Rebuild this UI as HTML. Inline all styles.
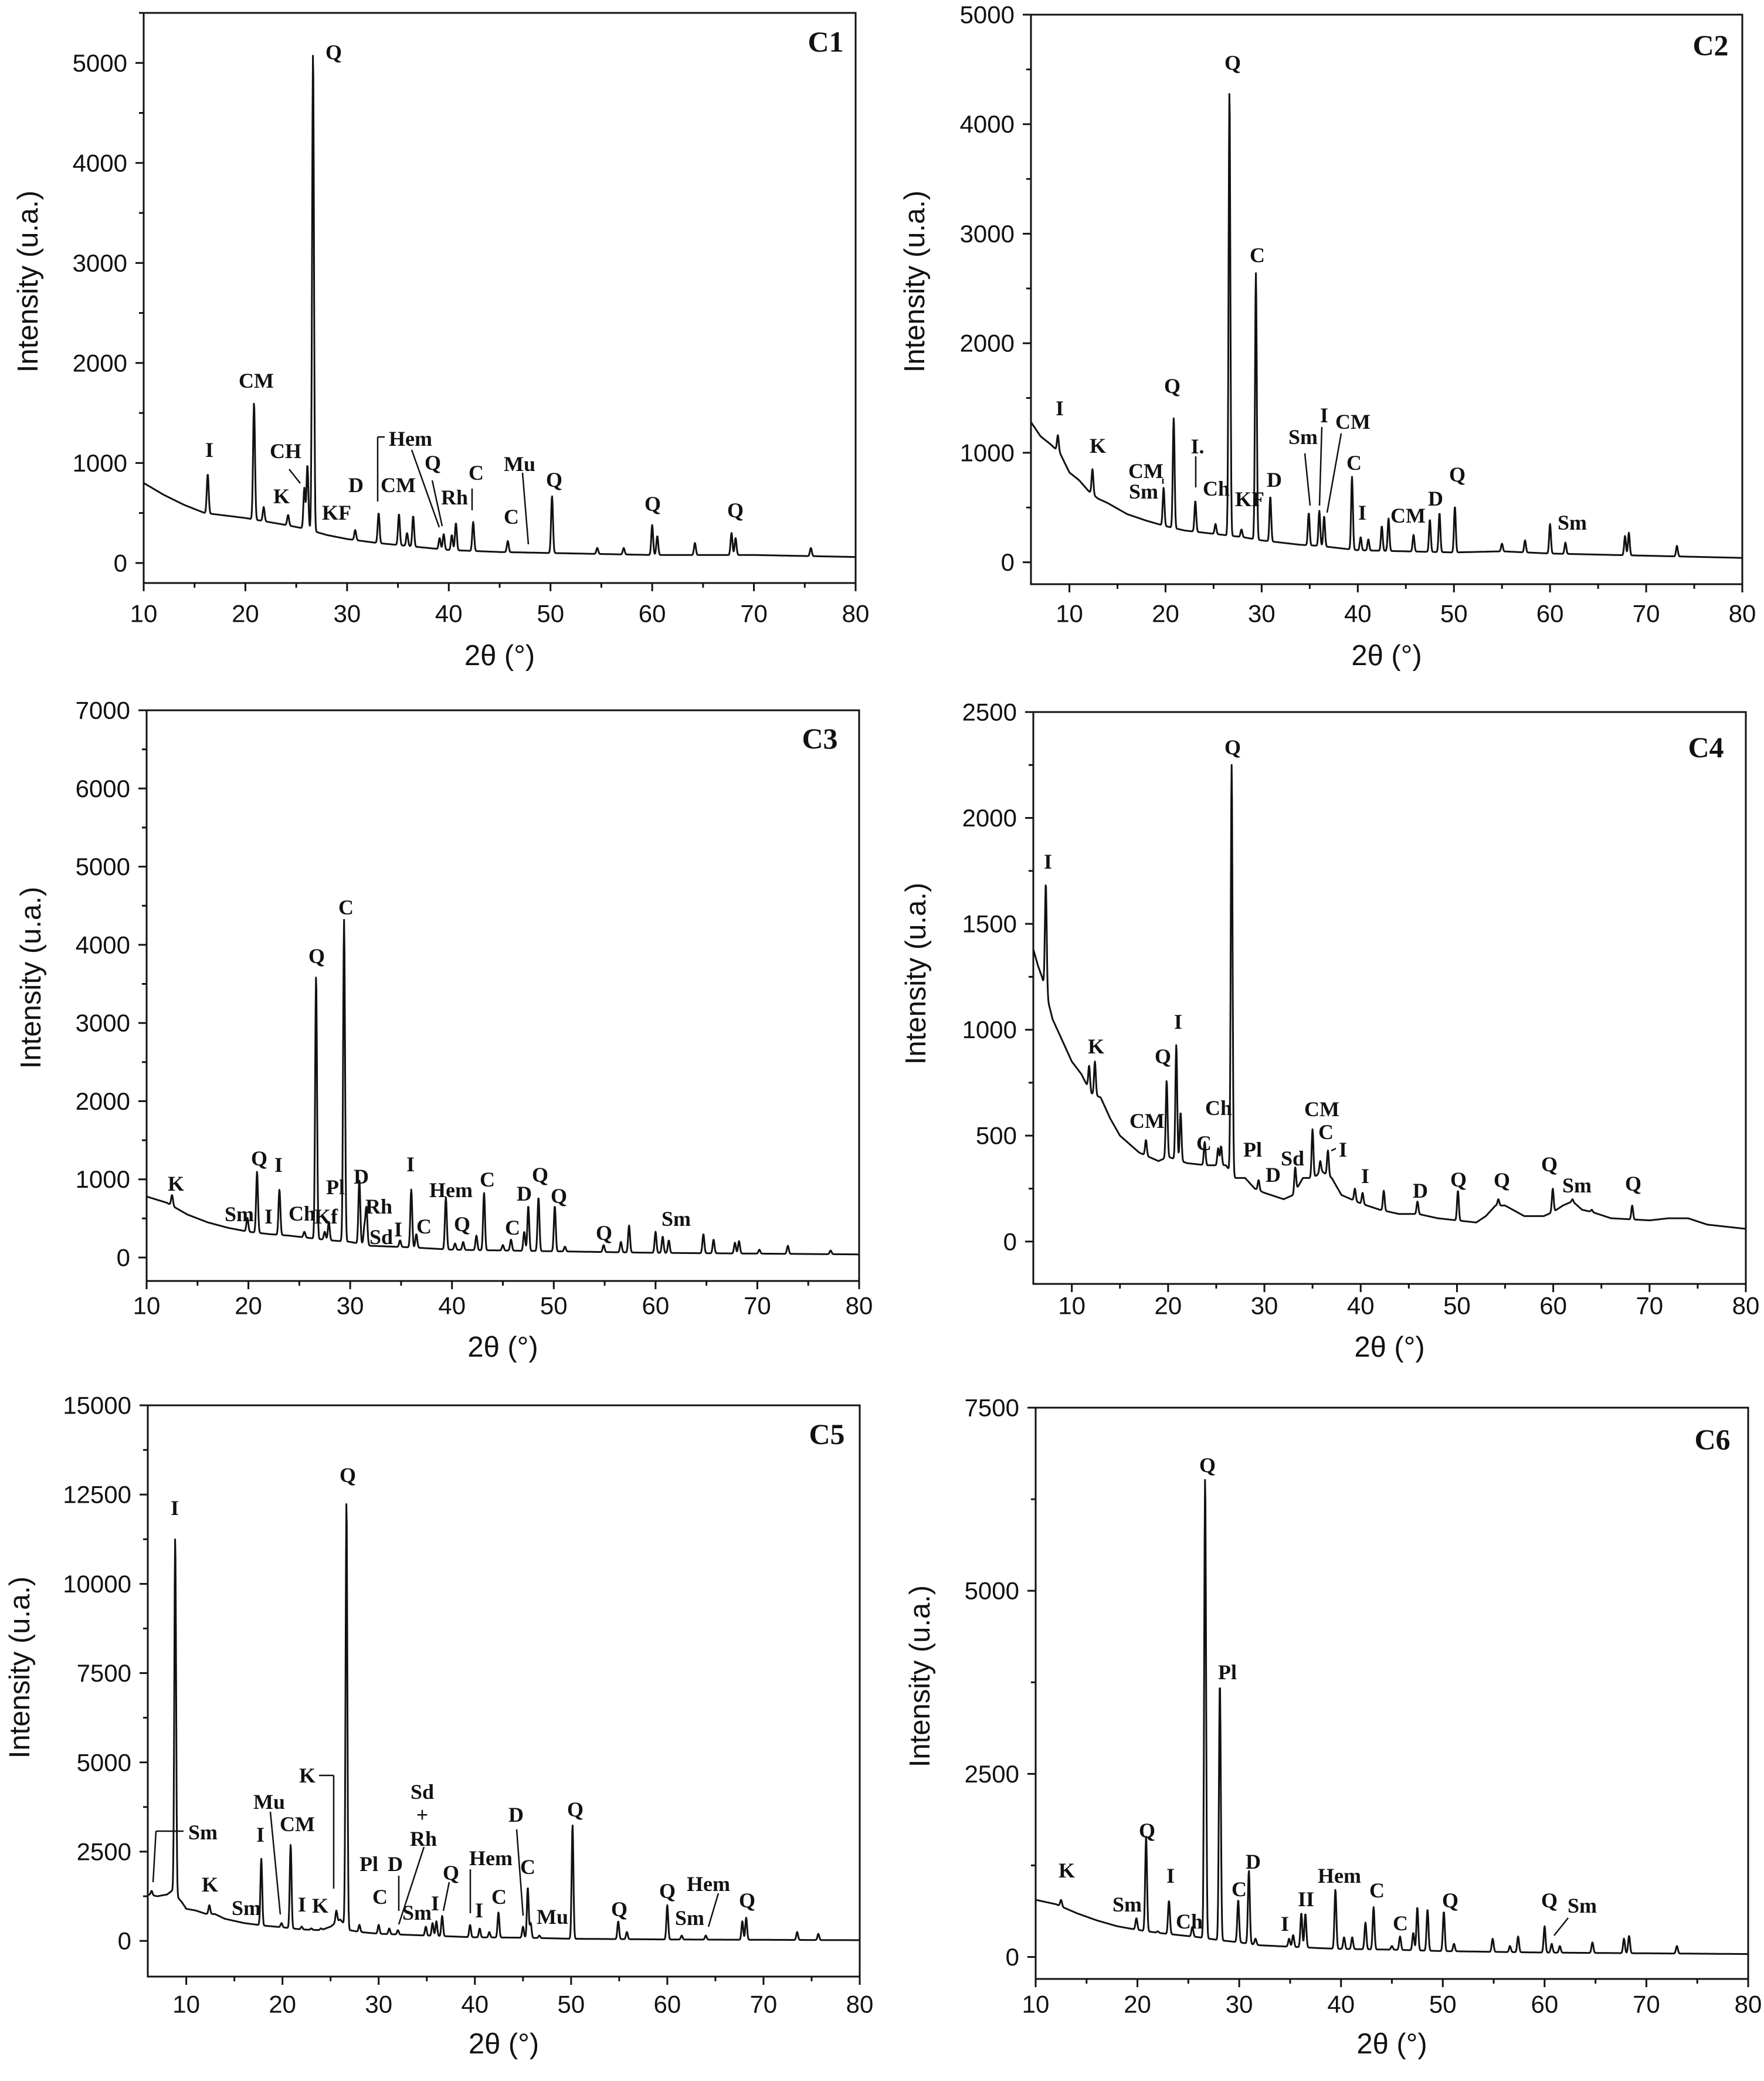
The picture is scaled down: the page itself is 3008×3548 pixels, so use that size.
<!DOCTYPE html>
<html><head><meta charset="utf-8"><title>XRD patterns C1–C6</title>
<style>
html,body{margin:0;padding:0;background:#fff;}
svg{display:block;}
.tick{font-family:"Liberation Sans",Arial,sans-serif;font-size:42px;fill:#111;}
.atitle{font-family:"Liberation Sans",Arial,sans-serif;font-size:49px;fill:#111;}
.lbl{font-family:"Liberation Serif","Times New Roman",serif;font-weight:bold;font-size:36px;fill:#111;}
.plbl{font-family:"Liberation Serif","Times New Roman",serif;font-weight:bold;font-size:50px;fill:#111;}
</style></head>
<body>
<svg id="fig" xmlns="http://www.w3.org/2000/svg" width="3008" height="3548" viewBox="0 0 3008 3548"></svg>
<script>
// ---------- DATA ----------
const c1BgX=[10,12,14,16,20,24,26,28,30,33,36,40,45,50,55,60,70,80];
const c1BgY=[800,680,580,500,450,380,340,280,240,200,170,130,110,100,90,80,80,60];
const c1PeakPos=[16.3,20.85,21.8,24.2,25.8,26.1,26.65,30.8,33.1,35.1,35.9,36.5,39.1,39.5,40.3,40.7,42.4,45.8,50.15,54.6,57.2,60.0,60.5,64.2,67.8,68.2,75.6];
const c1PeakTop=[890,1600,560,480,750,980,5100,330,500,490,300,470,250,290,280,400,410,220,670,150,150,380,270,200,300,250,150];

const c2BgX=[6,7,8,9,10,11,12,13,14,16,18,20,22,24,26,28,30,32,34,36,38,40,45,50,55,60,65,70,80];
const c2BgY=[1280,1150,1080,1000,820,750,650,580,540,440,380,330,290,270,250,230,200,180,160,150,130,110,100,90,100,80,70,60,40];
const c2PeakPos=[8.8,12.4,19.8,20.85,23.1,25.2,26.65,27.9,29.4,30.9,34.9,36.0,36.5,39.4,40.3,41.1,42.5,43.2,45.8,47.5,48.5,50.1,55,57.4,60.0,61.6,67.8,68.2,73.2];
const c2PeakTop=[1160,850,680,1320,560,350,4300,300,2640,600,450,470,420,780,230,210,330,400,250,390,450,510,170,200,350,180,240,270,150];

const c3BgX=[10,12,14,16,18,20,22,24,26,28,30,32,34,36,40,45,50,55,60,70,80];
const c3BgY=[780,700,550,450,380,330,300,280,250,220,200,150,140,130,100,90,80,70,60,50,40];
const c3PeakPos=[12.5,19.9,20.85,22,23.05,25.5,26.65,27.5,27.9,29.4,30.9,31.4,31.6,34.9,36.0,36.5,39.4,40.3,41.1,42.4,43.15,45.0,45.8,47.1,47.5,48.5,50.1,51.1,54.9,56.6,57.4,60.0,60.7,61.3,64.7,65.7,67.8,68.2,70.2,73.0,77.2];
const c3PeakTop=[800,510,1100,300,870,330,3600,330,460,4320,1000,380,630,220,870,300,770,180,200,280,830,160,230,330,660,770,660,140,160,200,410,330,270,220,300,230,190,210,100,150,90];

const c4BgX=[6,6.5,6.9,8,9,10,11,12,13,14,15,16,17,18,19,20,22,24,26,27,28,29,30,32,33,34,35,36,37,38,40,42,44,46,48,50,52,53,54,55,57,59,60,61,62,63,64,66,70,72,74,76,80];
const c4BgY=[1380,1300,1250,1050,950,850,790,700,680,580,500,460,420,400,380,400,370,360,360,300,300,250,230,200,220,300,300,330,300,220,180,150,130,130,110,100,90,120,170,170,120,120,140,170,190,150,140,110,100,110,110,80,60];
const c4PeakPos=[7.3,11.8,12.4,17.7,19.85,20.85,21.3,23.8,25.2,25.5,26.6,29.4,33.2,35.0,35.8,36.6,39.4,40.2,42.4,45.9,50.1,54.3,59.95,62,64,68.2];
const c4PeakTop=[1690,830,850,480,760,930,610,470,440,450,2250,290,350,530,380,430,250,230,240,190,240,200,250,200,150,170];

const c5BgX=[6,7,8,8.5,9.5,10,11,12,13,14,16,18,20,22,24,25,26,27,28,30,35,40,45,50,60,80];
const c5BgY=[1300,1250,1300,1400,1100,900,850,760,750,620,500,430,380,320,300,400,600,300,250,200,150,100,90,60,40,20];
const c5PeakPos=[6.4,8.85,12.4,17.8,19.9,20.85,22.0,23.0,24.0,25.6,26.65,28.0,30.0,31.1,32.0,34.9,35.6,36.0,36.6,39.5,40.5,41.5,42.45,45.0,45.5,45.8,46.7,50.15,54.9,55.8,60.0,61.5,64.0,67.8,68.2,73.5,75.7];
const c5PeakTop=[1400,11300,1000,2300,500,2700,400,350,350,850,12300,450,450,350,300,400,500,550,700,450,350,250,800,400,1500,500,150,3250,550,250,1000,150,150,550,650,250,200];

const c6BgX=[10,12,14,16,18,20,22,24,26,28,30,32,35,38,40,45,50,55,60,70,80];
const c6BgY=[780,720,600,500,420,370,330,300,270,230,200,160,140,120,110,100,80,70,60,50,40];
const c6PeakPos=[12.5,14,19.9,20.85,22.0,23.1,25.4,26.65,28.1,29.9,30.95,31.6,34.9,35.3,36.1,36.5,39.45,40.3,41.1,42.4,43.2,45.0,45.8,47.1,47.5,48.5,50.1,51.1,54.9,56.6,57.4,60.0,60.7,61.5,64.7,67.8,68.3,73];
const c6PeakTop=[780,600,530,1650,350,770,410,6550,3750,780,1180,250,250,300,600,590,920,270,270,470,680,150,280,330,680,650,620,180,250,150,280,420,180,150,200,250,290,150];

const xTicks10=[10,20,30,40,50,60,70,80];
const c1YTicks=[0,1000,2000,3000,4000,5000];
const c2YTicks=[0,1000,2000,3000,4000,5000];
const c3YTicks=[0,1000,2000,3000,4000,5000,6000,7000];
const c4YTicks=[0,500,1000,1500,2000,2500];
const c5YTicks=[0,2500,5000,7500,10000,12500,15000];
const c6YTicks=[0,2500,5000,7500];

// ---------- LAYOUT ----------
const NS="http://www.w3.org/2000/svg";
const svg=document.getElementById('fig');
function mk(tag,attrs,parent){const e=document.createElementNS(NS,tag);for(const k in attrs)e.setAttribute(k,attrs[k]);(parent||svg).appendChild(e);return e;}

const panels=[
 {id:'c1',L:245,R:1459,T:22,B:994,x0:10,x1:80,y0:-200,y1:5500,yMinor:500,yt:c1YTicks,bx:c1BgX,by:c1BgY,pp:c1PeakPos,pt:c1PeakTop,ytx:48,yty:480,xly:1046,xty:1118,name:'C1',nx:1408,ny:71},
 {id:'c2',L:1758,R:2971,T:25,B:996,x0:6,x1:80,y0:-200,y1:5000,yMinor:500,yt:c2YTicks,bx:c2BgX,by:c2BgY,pp:c2PeakPos,pt:c2PeakTop,ytx:1560,yty:480,xly:1046,xty:1118,name:'C2',nx:2917,ny:77},
 {id:'c3',L:250,R:1465,T:1211,B:2184,x0:10,x1:80,y0:-300,y1:7000,yMinor:500,yt:c3YTicks,bx:c3BgX,by:c3BgY,pp:c3PeakPos,pt:c3PeakTop,ytx:53,yty:1667,xly:2226,xty:2297,name:'C3',nx:1398,ny:1259},
 {id:'c4',L:1762,R:2977,T:1214,B:2189,x0:6,x1:80,y0:-200,y1:2500,yMinor:250,yt:c4YTicks,bx:c4BgX,by:c4BgY,pp:c4PeakPos,pt:c4PeakTop,ytx:1562,yty:1660,xly:2226,xty:2297,name:'C4',nx:2909,ny:1274},
 {id:'c5',L:252,R:1466,T:2396,B:3370,x0:6,x1:80,y0:-1000,y1:15000,yMinor:1250,yt:c5YTicks,bx:c5BgX,by:c5BgY,pp:c5PeakPos,pt:c5PeakTop,ytx:34,yty:2843,xly:3417,xty:3485,name:'C5',nx:1410,ny:2445},
 {id:'c6',L:1766,R:2981,T:2400,B:3374,x0:10,x1:80,y0:-300,y1:7500,yMinor:1250,yt:c6YTicks,bx:c6BgX,by:c6BgY,pp:c6PeakPos,pt:c6PeakTop,ytx:1569,yty:2858,xly:3417,xty:3485,name:'C6',nx:2920,ny:2454}
];

// labels: [text, x, y(center)] page pixels
const labels={
 c1:[['Q',569,89],['I',357,767],['CM',437,649],['CH',487,769],['K',480,846],['KF',574,874],['D',607,827],['Hem',700,748],['CM',679,827],['Q',738,789],['Rh',775,848],['C',812,806],['C',872,881],['Mu',886,791],['Q',945,818],['Q',1113,859],['Q',1254,870]],
 c2:[['I',1807,696],['K',1872,760],['CM',1954,803],['Sm',1950,838],['Q',1999,658],['I.',2042,761],['Ch',2074,833],['Q',2102,107],['KF',2131,851],['C',2144,435],['D',2173,818],['Sm',2222,745],['I',2258,708],['CM',2307,719],['C',2309,789],['I',2323,874],['CM',2401,879],['D',2448,850],['Q',2485,809],['Sm',2681,891]],
 c3:[['K',300,2018],['Sm',408,2070],['I',458,2074],['Q',442,1975],['I',475,1986],['Ch',515,2069],['Kf',556,2074],['Q',540,1630],['Pl',572,2024],['C',590,1547],['D',616,2006],['Rh',646,2057],['Sd',650,2109],['I',679,2096],['I',700,1985],['C',723,2091],['Hem',769,2029],['Q',788,2087],['C',831,2011],['C',874,2093],['D',894,2035],['Q',921,2003],['Q',953,2039],['Q',1030,2102],['Sm',1153,2078]],
 c4:[['I',1787,1469],['K',1869,1784],['Q',1983,1801],['I',2009,1742],['CM',1956,1911],['C',2053,1949],['Ch',2078,1889],['Q',2102,1274],['Pl',2136,1960],['D',2171,2003],['Sd',2204,1975],['CM',2254,1891],['C',2261,1930],['I',2290,1960],['I',2328,2005],['D',2422,2030],['Q',2487,2011],['Q',2561,2012],['Q',2642,1985],['Sm',2689,2021],['Q',2785,2018]],
 c5:[['I',298,2571],['Q',593,2515],['Sm',346,3124],['K',358,3213],['Sm',420,3253],['I',444,3128],['Mu',459,3072],['CM',507,3110],['I',515,3247],['K',546,3249],['K',524,3027],['Pl',629,3178],['D',674,3178],['C',648,3234],['Sd',720,3055],['+',720,3094],['Rh',722,3135],['Sm',711,3261],['I',742,3245],['Q',769,3193],['Hem',837,3168],['I',817,3257],['C',851,3234],['D',880,3094],['C',900,3183],['Mu',942,3268],['Q',981,3085],['Q',1056,3255],['Q',1138,3224],['Hem',1208,3212],['Sm',1176,3270],['Q',1274,3240]],
 c6:[['K',1819,3189],['Sm',1922,3247],['Q',1956,3121],['I',1996,3198],['Ch',2028,3276],['Q',2059,2498],['Pl',2093,2851],['C',2113,3221],['D',2137,3174],['I',2191,3280],['I',2220,3238],['I',2234,3238],['Hem',2284,3198],['C',2348,3223],['C',2388,3279],['Q',2473,3240],['Q',2642,3240],['Sm',2698,3249]]
};
// leader lines in zoom-frame coords converted: [x1,y1,x2,y2] page pixels
const leaders={
 c1:[[493,800,512,824],[644,855,644,745],[644,745,656,745],[702,767,749,899],[737,819,754,897],[805,833,805,870],[891,806,901,928]],
 c2:[[1983,816,1983,825],[2039,778,2039,831],[2225,773,2234,862],[2254,728,2250,862],[2287,739,2263,874]],
 c3:[],
 c4:[[2270,1962,2278,1958]],
 c5:[[261,3209,266,3122],[266,3122,313,3122],[544,3027,569,3027],[569,3027,569,3220],[461,3089,478,3264],[680,3198,680,3258],[723,3149,680,3281],[802,3187,802,3262],[766,3209,756,3258],[881,3119,892,3266],[1225,3228,1208,3285]],
 c6:[[2674,3270,2650,3300]]
};

function interp(xs,ys,x){
 if(x<=xs[0])return ys[0];
 for(let i=1;i<xs.length;i++){if(x<=xs[i]){const t=(x-xs[i-1])/(xs[i]-xs[i-1]);return ys[i-1]+t*(ys[i]-ys[i-1]);}}
 return ys[ys.length-1];
}

panels.forEach(p=>{
 const g=mk('g',{});
 
 
 const sx=v=>p.L+(v-p.x0)/(p.x1-p.x0)*(p.R-p.L);
 const sy=v=>p.B-(v-p.y0)/(p.y1-p.y0)*(p.B-p.T);
 const cid='clip-'+p.id;
 const defs=mk('defs',{},g);
 const cp=mk('clipPath',{id:cid},defs);
 mk('rect',{x:p.L,y:p.T,width:p.R-p.L,height:p.B-p.T},cp);
 // spectrum
 const amps=p.pp.map((pos,i)=>Math.max(0,p.pt[i]-interp(p.bx,p.by,pos)));
 let d='';
 for(let x=p.x0;x<=p.x1+1e-9;x+=0.04){
  let y=interp(p.bx,p.by,x);
  for(let i=0;i<p.pp.length;i++){const u=(x-p.pp[i])/0.13;if(Math.abs(u)<6)y+=amps[i]*Math.exp(-u*u);}
  d+=(d?'L':'M')+sx(x).toFixed(1)+','+sy(y).toFixed(1);
 }
 const line=mk('path',{d:d,fill:'none',stroke:'#111','stroke-width':3,'stroke-linejoin':'round','clip-path':'url(#'+cid+')'},g);
 
 
 // frame
 const fr=mk('rect',{x:p.L,y:p.T,width:p.R-p.L,height:p.B-p.T,fill:'none',stroke:'#111','stroke-width':3},g);
 
 
 // x ticks
 for(let v=Math.ceil(p.x0/5)*5;v<=p.x1;v+=5){
  const major=v%10===0;
  mk('line',{x1:sx(v),y1:p.B,x2:sx(v),y2:p.B+(major?14:8),stroke:'#111','stroke-width':3},g);
 }
 xTicks10.forEach(v=>{
  const t=mk('text',{x:sx(v),y:p.xly,'text-anchor':'middle','dominant-baseline':'central',class:'tick'},g);
  t.textContent=v;
  
  
 });
 // y ticks
 for(let v=Math.ceil(p.y0/p.yMinor)*p.yMinor;v<=p.y1;v+=p.yMinor){
  const major=p.yt.indexOf(v)>=0;
  mk('line',{x1:p.L-(major?14:8),y1:sy(v),x2:p.L,y2:sy(v),stroke:'#111','stroke-width':3},g);
 }
 p.yt.forEach(v=>{
  const t=mk('text',{x:p.L-28,y:sy(v),'text-anchor':'end','dominant-baseline':'central',class:'tick'},g);
  t.textContent=v;
  
  
 });
 // axis titles
 const yt=mk('text',{x:p.ytx,y:p.yty,'text-anchor':'middle','dominant-baseline':'central',class:'atitle',transform:'rotate(-90 '+p.ytx+' '+p.yty+')'},g);
 yt.textContent='Intensity (u.a.)';
 
 
 const xt=mk('text',{x:(p.L+p.R)/2,y:p.xty,'text-anchor':'middle','dominant-baseline':'central',class:'atitle'},g);
 xt.textContent='2θ (°)';
 
 
 // panel label
 const nl=mk('text',{x:p.nx,y:p.ny,'text-anchor':'middle','dominant-baseline':'central',class:'plbl'},g);
 nl.textContent=p.name;
 
 
 // phase labels
 labels[p.id].forEach(l=>{
  const t=mk('text',{x:l[1],y:l[2],'text-anchor':'middle','dominant-baseline':'central',class:'lbl'},g);
  t.textContent=l[0];
  
  
 });
 leaders[p.id].forEach(l=>{
  const ln=mk('line',{x1:l[0],y1:l[1],x2:l[2],y2:l[3],stroke:'#111','stroke-width':2.5},g);
  
  
 });
});
</script>
</body></html>
